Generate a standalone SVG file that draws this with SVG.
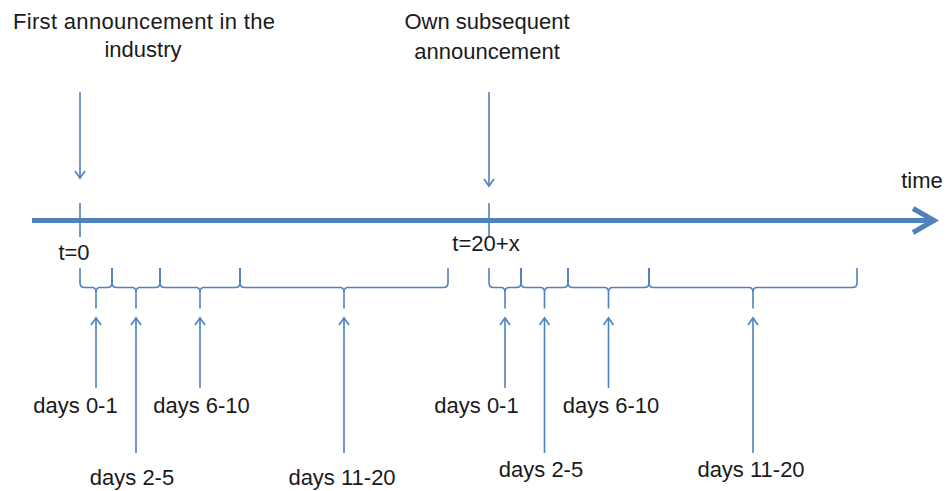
<svg xmlns="http://www.w3.org/2000/svg" width="952" height="491" viewBox="0 0 952 491">
<style>
.ln{stroke:#4F81BD;stroke-width:1.6;fill:none}
.br{stroke:#4F81BD;stroke-width:1.6;fill:none;stroke-linejoin:round}
.tx{font-family:"Liberation Sans",Arial,sans-serif;font-size:22px;fill:#1a1a1a;text-anchor:middle}
</style>
<defs>
<marker id="ah" markerUnits="userSpaceOnUse" markerWidth="16" markerHeight="16" viewBox="-10 -8 12 16" refX="0" refY="0" orient="auto">
<path d="M-7,-5 L0,0 L-7,5" fill="none" stroke="#4F81BD" stroke-width="1.6"/>
</marker>
</defs>
<rect width="952" height="491" fill="#fff"/>
<g id="axis">
<line x1="32" y1="220.5" x2="933" y2="220.5" stroke="#4F81BD" stroke-width="5"/>
<path d="M913,208.5 L934,220.5 L913,232.5" fill="none" stroke="#4F81BD" stroke-width="5" stroke-linejoin="miter"/>
<line class="ln" x1="80" y1="203" x2="80" y2="237"/>
<line class="ln" x1="489" y1="203" x2="489" y2="237"/>
</g>
<g id="labels-top">
<text class="tx" x="144" y="29" textLength="262" lengthAdjust="spacing">First announcement in the</text>
<text class="tx" x="143" y="57">industry</text>
<text class="tx" x="487" y="29">Own subsequent</text>
<text class="tx" x="487" y="59">announcement</text>
<text class="tx" x="922" y="188">time</text>
<text class="tx" x="74" y="260">t=0</text>
<text class="tx" x="486" y="251">t=20+x</text>
</g>
<g id="braces">
<path class="br" d="M80,268 v15 q0,4.5 4.5,4.5 H92 q4,0 4,5 v16 M96,292.5 q0,-5 4,-5 H107.5 q4.5,0 4.5,-4.5 v-15"/>
<path class="br" d="M112,268 v15 q0,4.5 4.5,4.5 H132 q4,0 4,5 v16 M136,292.5 q0,-5 4,-5 H155.5 q4.5,0 4.5,-4.5 v-15"/>
<path class="br" d="M160,268 v15 q0,4.5 4.5,4.5 H196 q4,0 4,5 v16 M200,292.5 q0,-5 4,-5 H235.5 q4.5,0 4.5,-4.5 v-15"/>
<path class="br" d="M240,268 v15 q0,4.5 4.5,4.5 H340 q4,0 4,5 v16 M344,292.5 q0,-5 4,-5 H443.5 q4.5,0 4.5,-4.5 v-15"/>
<path class="br" d="M489,268 v15 q0,4.5 4.5,4.5 H501 q4,0 4,5 v16 M505,292.5 q0,-5 4,-5 H516.5 q4.5,0 4.5,-4.5 v-15"/>
<path class="br" d="M521,268 v15 q0,4.5 4.5,4.5 H540.5 q4,0 4,5 v16 M544.5,292.5 q0,-5 4,-5 H563.5 q4.5,0 4.5,-4.5 v-15"/>
<path class="br" d="M568,268 v15 q0,4.5 4.5,4.5 H604.5 q4,0 4,5 v16 M608.5,292.5 q0,-5 4,-5 H644.5 q4.5,0 4.5,-4.5 v-15"/>
<path class="br" d="M649,268 v15 q0,4.5 4.5,4.5 H749 q4,0 4,5 v16 M753,292.5 q0,-5 4,-5 H852.5 q4.5,0 4.5,-4.5 v-15"/>
</g>
<g id="connectors">
<line class="ln" x1="80" y1="92" x2="80" y2="178" marker-end="url(#ah)"/>
<line class="ln" x1="489" y1="92" x2="489" y2="186" marker-end="url(#ah)"/>
<line class="ln" x1="96" y1="388" x2="96" y2="318" marker-end="url(#ah)"/>
<line class="ln" x1="136" y1="453" x2="136" y2="318" marker-end="url(#ah)"/>
<line class="ln" x1="200" y1="388" x2="200" y2="318" marker-end="url(#ah)"/>
<line class="ln" x1="344" y1="453" x2="344" y2="318" marker-end="url(#ah)"/>
<line class="ln" x1="505" y1="388" x2="505" y2="318" marker-end="url(#ah)"/>
<line class="ln" x1="544.5" y1="453" x2="544.5" y2="318" marker-end="url(#ah)"/>
<line class="ln" x1="608.5" y1="388" x2="608.5" y2="318" marker-end="url(#ah)"/>
<line class="ln" x1="753" y1="453" x2="753" y2="318" marker-end="url(#ah)"/>
</g>
<g id="labels-bottom">
<text class="tx" x="75.5" y="413">days 0-1</text>
<text class="tx" x="201.5" y="413">days 6-10</text>
<text class="tx" x="132" y="485">days 2-5</text>
<text class="tx" x="342" y="485">days 11-20</text>
<text class="tx" x="476.5" y="413">days 0-1</text>
<text class="tx" x="611" y="413">days 6-10</text>
<text class="tx" x="541" y="477">days 2-5</text>
<text class="tx" x="751" y="477">days 11-20</text>
</g>
</svg>
